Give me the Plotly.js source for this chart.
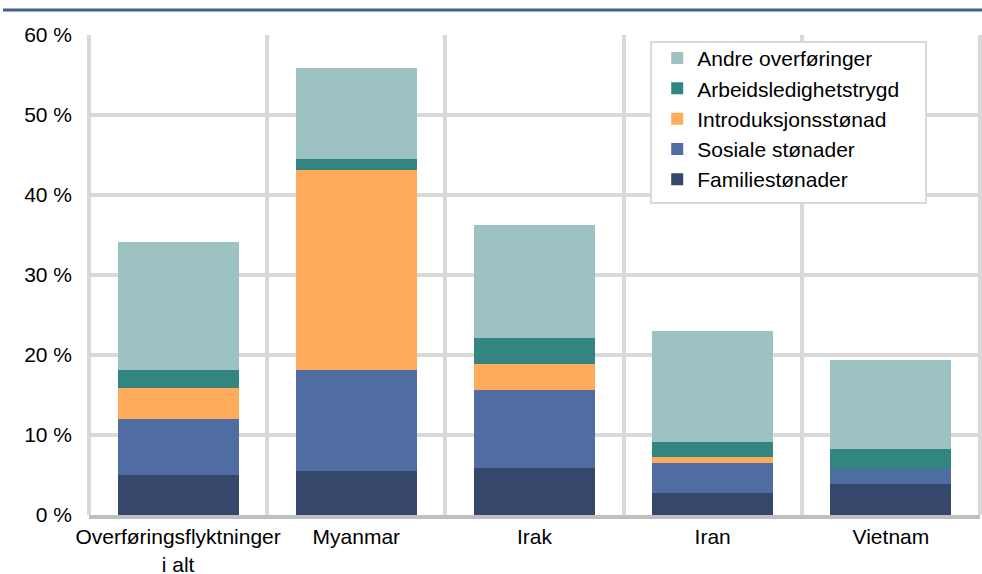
<!DOCTYPE html>
<html>
<head>
<meta charset="utf-8">
<script src="https://cdn.plot.ly/plotly-3.0.1.min.js"></script>
<style>html,body{margin:0;padding:0;background:#fff;}#chart{width:982px;height:574px;}</style>
</head>
<body>
<div id="chart"></div>
<script>
const categories = ["Overføringsflyktninger<br>i alt", "Myanmar", "Irak", "Iran", "Vietnam"];
const familiestonader = [5.0, 5.5, 5.9, 2.8, 3.9];
const sosialeStonader = [7.0, 12.6, 9.7, 3.7, 1.8];
const introduksjonsstonad = [3.9, 25.0, 3.3, 0.8, 0.1];
const arbeidsledighetstrygd = [2.2, 1.4, 3.2, 1.8, 2.5];
const andreOverforinger = [16.0, 11.4, 14.1, 13.9, 11.1];
const yTickVals = [0, 10, 20, 30, 40, 50, 60];
const yTickText = ["0 %", "10 %", "20 %", "30 %", "40 %", "50 %", "60 %"];

const series = [
  {name: "Familiestønader", y: familiestonader, color: "#36476C"},
  {name: "Sosiale stønader", y: sosialeStonader, color: "#4F6CA3"},
  {name: "Introduksjonsstønad", y: introduksjonsstonad, color: "#FFAB5B"},
  {name: "Arbeidsledighetstrygd", y: arbeidsledighetstrygd, color: "#338582"},
  {name: "Andre overføringer", y: andreOverforinger, color: "#9CC3C2"}
];

const traces = series.map(s => ({
  type: "bar",
  name: s.name,
  x: categories,
  y: s.y,
  marker: {color: s.color, line: {width: 0}},
  hoverinfo: "skip"
}));

const font = {family: "Liberation Sans, Arial, sans-serif", size: 21, color: "#000"};

const layout = {
  width: 982,
  height: 574,
  barmode: "stack",
  bargap: 0.32,
  margin: {l: 89, r: 2, t: 35, b: 59},
  paper_bgcolor: "#fff",
  plot_bgcolor: "#fff",
  font: font,
  showlegend: true,
  legend: {
    x: 0.631, y: 0.994, xanchor: "left", yanchor: "top",
    traceorder: "reversed",
    bgcolor: "rgba(0,0,0,0)",
    borderwidth: 0,
    indentation: 6,
    font: font,
    itemclick: false
  },
  xaxis: {
    type: "category",
    tickson: "boundaries",
    tickangle: 0,
    automargin: false,
    showgrid: true,
    gridcolor: "#D9D9D9",
    gridwidth: 4,
    showline: true,
    linecolor: "#BFBFBF",
    linewidth: 4,
    ticks: "",
    tickfont: font,
    fixedrange: true
  },
  yaxis: {
    range: [0, 60],
    tickvals: yTickVals,
    ticktext: yTickText,
    automargin: false,
    showgrid: true,
    gridcolor: "#D9D9D9",
    gridwidth: 4,
    zeroline: false,
    showline: false,
    ticks: "",
    ticklabelstandoff: 16,
    tickfont: font,
    fixedrange: true
  },
  shapes: [
    {
      type: "line", xref: "paper", yref: "paper", layer: "below",
      x0: 0, x1: 0, y0: 0, y1: 1,
      line: {color: "#D9D9D9", width: 4}
    },
    {
      type: "line", xref: "paper", yref: "paper", layer: "below",
      x0: 1, x1: 1, y0: 0, y1: 1,
      line: {color: "#D9D9D9", width: 4}
    },
    {
      type: "rect", xref: "paper", yref: "paper", layer: "above",
      x0: 0.6308, x1: 0.9394, y0: 0.65, y1: 0.9854,
      fillcolor: "#fff",
      line: {color: "#D9D9D9", width: 2}
    },
    {
      type: "line", xref: "paper", yref: "paper",
      x0: -0.0965, x1: 1.003, y0: 1.052, y1: 1.052,
      line: {color: "#44618F", width: 3}
    }
  ]
};

Plotly.newPlot("chart", traces, layout, {displayModeBar: false, staticPlot: true});
</script>
</body>
</html>
